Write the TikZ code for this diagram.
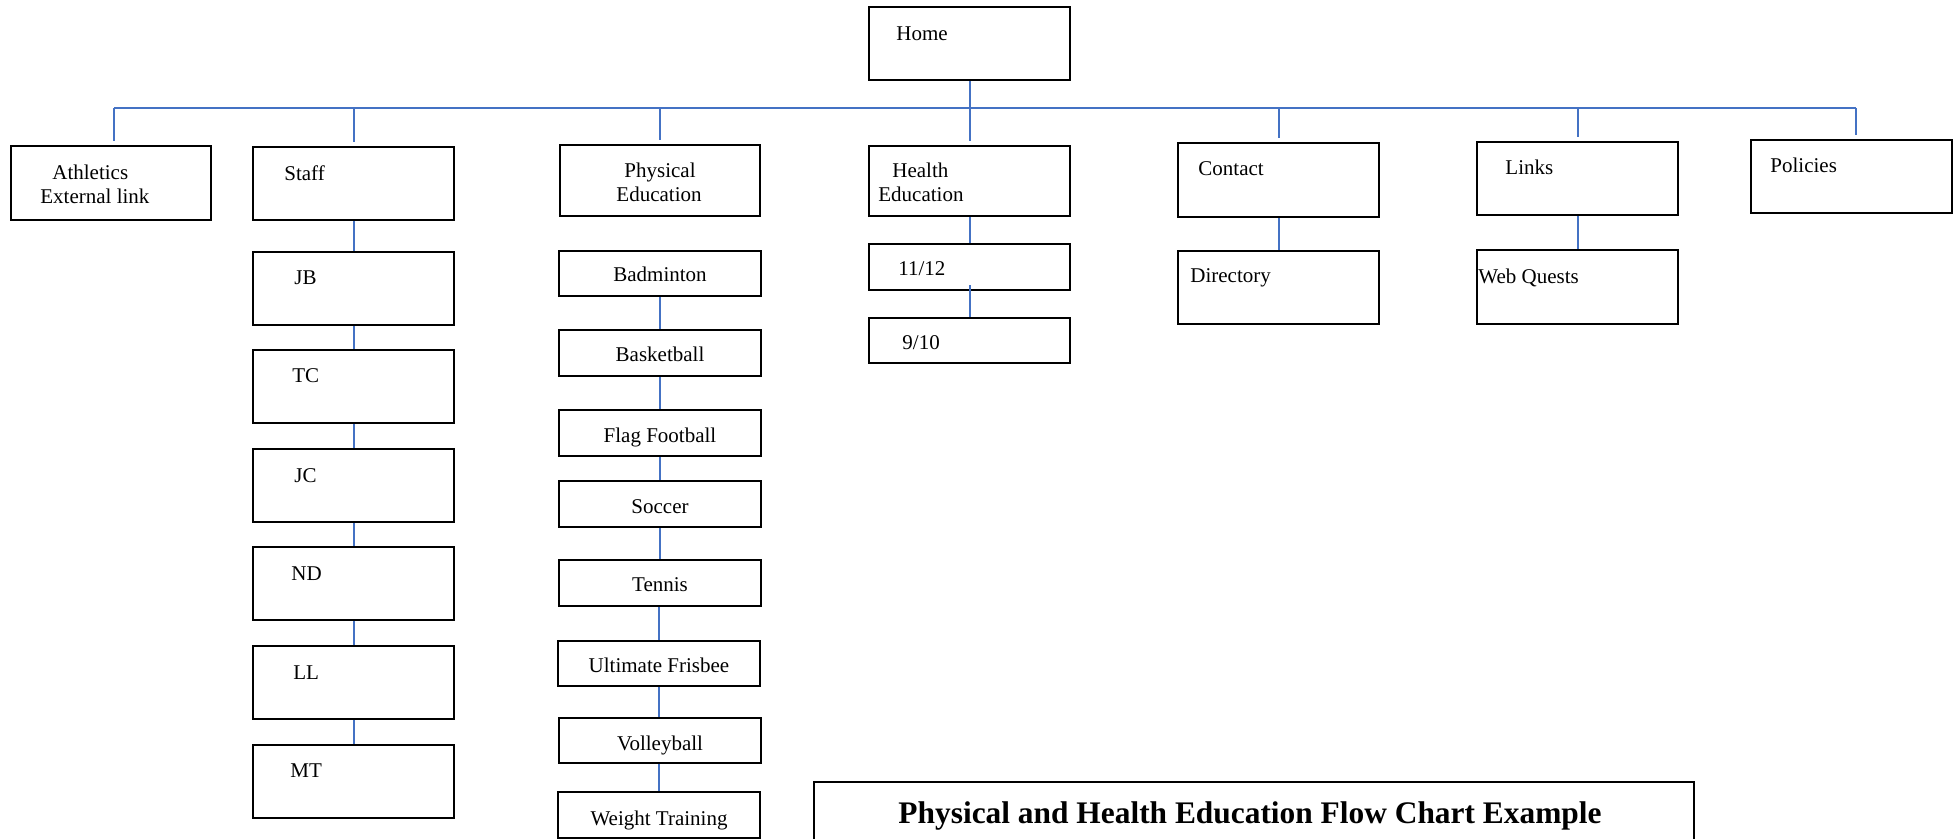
\documentclass[tikz,border=0pt]{standalone}
\usepackage{fontspec}
\setmainfont{Liberation Serif}
\usetikzlibrary{fit,calc}
\definecolor{lineblue}{HTML}{4472C4}
\tikzset{
 box/.style={draw=black, line width=1.1pt, inner sep=0pt, fill=white},
 conn/.style={draw=lineblue, line width=1pt},
 stub/.style={conn, shorten >=2pt},
 lbl/.style={inner sep=0pt, font=\fontsize{10.5}{12}\selectfont, anchor=base west, yshift=-2pt},
 clbl/.style={lbl, anchor=base},
 ttl/.style={inner sep=0pt, font=\fontsize{15.7}{18}\selectfont\bfseries, anchor=base},
}
\newcommand\mybox[5]{\node[box, fit={(#2,#3) (#4,#5)}] (#1) {};}
\begin{document}
\begin{tikzpicture}[x=0.5pt,y=-0.5pt]
\clip (0,0) rectangle (1958,839);
\fill[white] (0,0) rectangle (1958,839);
% boxes
\mybox{home}{869}{7}{1070}{80}
\mybox{ath}{11}{146}{211}{220}
\mybox{staff}{253}{147}{454}{220}
\mybox{pe}{560}{145}{760}{216}
\mybox{he}{869}{146}{1070}{216}
\mybox{gb}{869}{244}{1070}{290}
\mybox{ga}{869}{318}{1070}{363}
\mybox{contact}{1178}{143}{1379}{217}
\mybox{dir}{1178}{251}{1379}{324}
\mybox{links}{1477}{142}{1678}{215}
\mybox{webq}{1477}{250}{1678}{324}
\mybox{pol}{1751}{140}{1952}{213}
\mybox{jb}{253}{252}{454}{325}
\mybox{tc}{253}{350}{454}{423}
\mybox{jc}{253}{449}{454}{522}
\mybox{nd}{253}{547}{454}{620}
\mybox{ll}{253}{646}{454}{719}
\mybox{mt}{253}{745}{454}{818}
\mybox{bad}{559}{251}{761}{296}
\mybox{bas}{559}{330}{761}{376}
\mybox{flag}{559}{410}{761}{456}
\mybox{soc}{559}{481}{761}{527}
\mybox{ten}{559}{560}{761}{606}
\mybox{uf}{558}{641}{760}{686}
\mybox{vol}{559}{718}{761}{763}
\mybox{wt}{558}{792}{760}{838}
\mybox{title}{814}{782}{1694}{860}
% labels
\node[lbl] (thome) at (896,37) {Home};
\node[lbl] (tath1) at (52,176) {Athletics};
\node[lbl] (tath2) at (40,200) {External link};
\node[lbl] (tstaff) at (284,177) {Staff};
\node[clbl] (tpe1) at (660,174) {Physical};
\node[clbl] (tpe2) at (659,198) {Education};
\node[lbl] (the1) at (892,174) {Health};
\node[lbl] (the2) at (878,198) {Education};
\node[lbl] (tgb) at (898,272) {11/12};
\node[lbl] (tga) at (902,346) {9/10};
\node[lbl] (tcontact) at (1198,172) {Contact};
\node[lbl] (tdir) at (1190,279) {Directory};
\node[lbl] (tlinks) at (1505,171) {Links};
\node[lbl] (tpol) at (1770,169) {Policies};
\node[lbl] (twebq) at (1478,280) {Web Quests};
\node[lbl] (tjb) at (294,281) {JB};
\node[lbl] (ttc) at (292,379) {TC};
\node[lbl] (tjc) at (294,478) {JC};
\node[lbl] (tnd) at (291,576) {ND};
\node[lbl] (tll) at (293,675) {LL};
\node[lbl] (tmt) at (290,773) {MT};
\node[clbl] (tbad) at (660,278) {Badminton};
\node[clbl] (tbas) at (660,358) {Basketball};
\node[clbl] (tflag) at (660,438) {Flag Football};
\node[clbl] (tsoc) at (660,509) {Soccer};
\node[clbl] (tten) at (660,587) {Tennis};
\node[clbl] (tuf) at (659,668) {Ultimate Frisbee};
\node[clbl] (tvol) at (660,746) {Volleyball};
\node[clbl] (twt) at (659,821) {Weight Training};
\node[ttl] (ttitle) at (1250,823) {Physical and Health Education Flow Chart Example};
% connectors
\coordinate (busL) at (114,108);
\coordinate (busR) at (1856,108);
\draw[conn] (busL) -- (busR);
\draw[conn] (home.south) -- (home.south |- busL);
\draw[stub] (busL) -- (busL |- ath.north);
\draw[stub] (staff.north |- busL) -- (staff.north);
\draw[stub] (pe.north |- busL) -- (pe.north);
\draw[stub] (he.north |- busL) -- (he.north);
\draw[stub] (contact.north |- busL) -- (contact.north);
\draw[stub] (links.north |- busL) -- (links.north);
\draw[stub] (busR) -- (busR |- pol.north);
\draw[conn] (staff.south) -- (jb.north);
\draw[conn] (jb.south) -- (tc.north);
\draw[conn] (tc.south) -- (jc.north);
\draw[conn] (jc.south) -- (nd.north);
\draw[conn] (nd.south) -- (ll.north);
\draw[conn] (ll.south) -- (mt.north);
\draw[conn] (bad.south) -- (bad.south |- bas.north);
\draw[conn] (bas.south) -- (bas.south |- flag.north);
\draw[conn] (flag.south) -- (flag.south |- soc.north);
\draw[conn] (soc.south) -- (soc.south |- ten.north);
\draw[conn] (uf.north |- ten.south) -- (uf.north);
\draw[conn] (uf.south) -- (uf.south |- vol.north);
\draw[conn] (wt.north |- vol.south) -- (wt.north);
\draw[conn] (he.south) -- (gb.north);
\draw[conn] ($(gb.south)+(0,-6)$) -- (ga.north);
\draw[conn] (contact.south) -- (dir.north);
\draw[conn] (links.south) -- (webq.north);
\end{tikzpicture}
\end{document}
